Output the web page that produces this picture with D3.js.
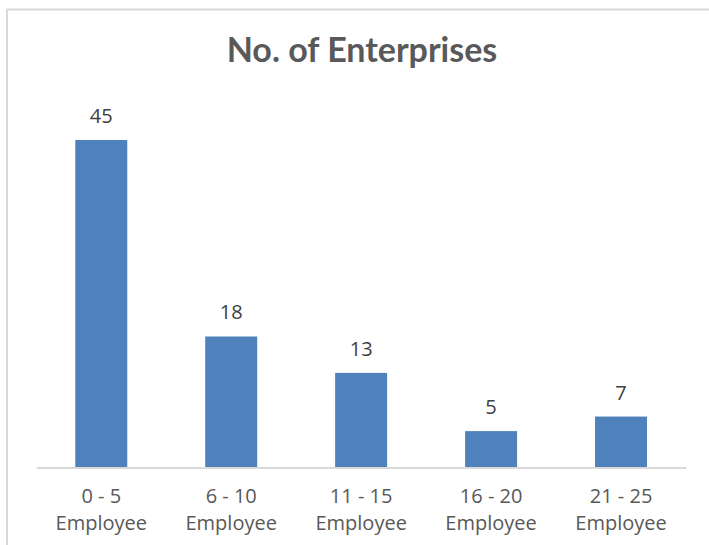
<!DOCTYPE html>
<html>
<head>
<meta charset="utf-8">
<script src="https://cdn.jsdelivr.net/npm/d3@7"></script>
<style>
	body { margin: 0; background: #fff; }
	svg { display: block; }
	.x.axis .domain { stroke: #d9d9d9; stroke-width: 2px; }
	.x.axis text { font-family: 'Open Sans', sans-serif; font-size: 20px; fill: #595959; }
	.label { font-family: 'Open Sans', sans-serif; font-size: 20px; fill: #404040; }
	.title { font-family: Lato, sans-serif; font-weight: bold; font-size: 34px; fill: #595959; }
</style>
</head>
<body>
<div id="graphic"></div>
<script>
// chart data
const categories = ['0 - 5', '6 - 10', '11 - 15', '16 - 20', '21 - 25'];
const unitLabel = 'Employee';
const values = [45, 18, 13, 5, 7];
const titleText = 'No. of Enterprises';

const width = 709, height = 545;
const margin = { top: 103.6, right: 23, bottom: 77.5, left: 36.3 };

const svg = d3.select('#graphic')
	.append('svg')
	.attr('width', width)
	.attr('height', height);

// chart area border (runs off the right and bottom of the picture)
svg.append('rect')
	.attr('x', 7)
	.attr('y', 9.5)
	.attr('width', 900)
	.attr('height', 900)
	.attr('fill', 'none')
	.attr('stroke', '#d9d9d9')
	.attr('stroke-width', 2);

const x = d3.scaleBand()
	.domain(categories)
	.range([margin.left, width - margin.right])
	.paddingInner(0.6)
	.paddingOuter(0.3);

const y = d3.scaleLinear()
	.domain([0, 50])
	.range([height - margin.bottom, margin.top]);

// title
svg.append('text')
	.attr('class', 'title')
	.attr('x', 362)
	.attr('y', 62)
	.attr('text-anchor', 'middle')
	.text(titleText);

const data = categories.map((c, i) => ({ cat: c, value: values[i] }));

// bars
svg.append('g')
	.selectAll('rect')
	.data(data)
	.join('rect')
	.attr('x', d => x(d.cat))
	.attr('y', d => y(d.value))
	.attr('width', x.bandwidth())
	.attr('height', d => y(0) - y(d.value))
	.attr('fill', '#4f81bd');

// x axis with two-line labels
const xAxis = svg.append('g')
	.attr('class', 'x axis')
	.attr('transform', 'translate(0,' + y(0) + ')')
	.call(d3.axisBottom(x).tickSize(0).tickSizeOuter(0).tickPadding(0));

xAxis.selectAll('.tick text')
	.attr('y', 0)
	.attr('dy', null)
	.text(null)
	.each(function (d) {
		const t = d3.select(this);
		t.append('tspan').attr('x', 0).attr('y', 35).text(d);
		t.append('tspan').attr('x', 0).attr('y', 62).text(unitLabel);
	});

// data labels
svg.append('g')
	.selectAll('text')
	.data(data)
	.join('text')
	.attr('class', 'label')
	.attr('x', d => x(d.cat) + x.bandwidth() / 2)
	.attr('y', d => y(d.value) - 17)
	.attr('text-anchor', 'middle')
	.text(d => d.value);
</script>
</body>
</html>
